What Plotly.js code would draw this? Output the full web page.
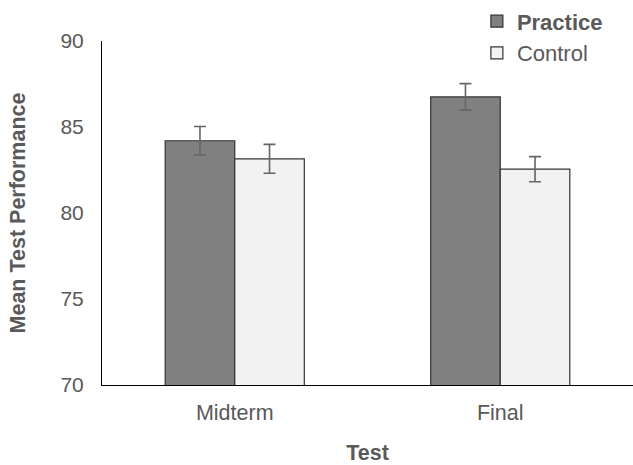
<!DOCTYPE html>
<html><head><meta charset="utf-8">
<script src="https://cdn.plot.ly/plotly-3.0.1.min.js"></script>
<style>body{margin:0;padding:0;background:#fff}#chart{width:633px;height:465px}</style>
</head><body><div id="chart"></div>
<script>
const categories = ['Midterm', 'Final'];
const practiceValues = [84.2, 86.75];
const practiceErrors = [0.83, 0.77];
const controlValues = [83.15, 82.55];
const controlErrors = [0.84, 0.73];
const yTicks = [70, 75, 80, 85, 90];

const traces = [
  {type:'bar', name:'<b>Practice</b>', x:categories, y:practiceValues, legendgroup:'p',
   marker:{color:'#808080', line:{color:'#333333', width:1.2}},
   error_y:{type:'data', array:practiceErrors, visible:true, color:'#666666', thickness:1.6, width:6}},
  {type:'bar', name:'Control', x:categories, y:controlValues, legendgroup:'c',
   marker:{color:'#f2f2f2', line:{color:'#333333', width:1.2}},
   error_y:{type:'data', array:controlErrors, visible:true, color:'#666666', thickness:1.6, width:6}}
];
const layout = {
  width:633, height:465,
  margin:{l:102, r:0, t:41, b:80},
  paper_bgcolor:'#fff', plot_bgcolor:'#fff',
  font:{family:'Liberation Sans, Arial, sans-serif', color:'#595959', size:21},
  barmode:'group', bargap:0.476, bargroupgap:0,
  showlegend:true,
  legend:{x:0.706, y:1.118, xanchor:'left', yanchor:'top', font:{size:22, color:'#595959'},
          bgcolor:'rgba(0,0,0,0)', itemwidth:30, tracegroupgap:3, traceorder:'normal'},
  xaxis:{showline:true, linecolor:'#000', linewidth:1, ticks:'', showgrid:false,
         tickfont:{size:21.5, color:'#595959'}, ticklabelstandoff:8,
         title:{text:'<b>Test</b>', font:{size:21.5, color:'#595959'}, standoff:21}},
  yaxis:{range:[70,90], tickvals:yTicks, showline:true, linecolor:'#000', linewidth:1,
         ticks:'', showgrid:false, zeroline:false, ticklabelstandoff:13,
         tickfont:{size:21, color:'#595959'},
         title:{text:'<b>Mean Test Performance</b>', font:{size:21.5, color:'#595959'}, standoff:28}}
};
Plotly.newPlot('chart', traces, layout, {displayModeBar:false, staticPlot:true});
</script></body></html>
